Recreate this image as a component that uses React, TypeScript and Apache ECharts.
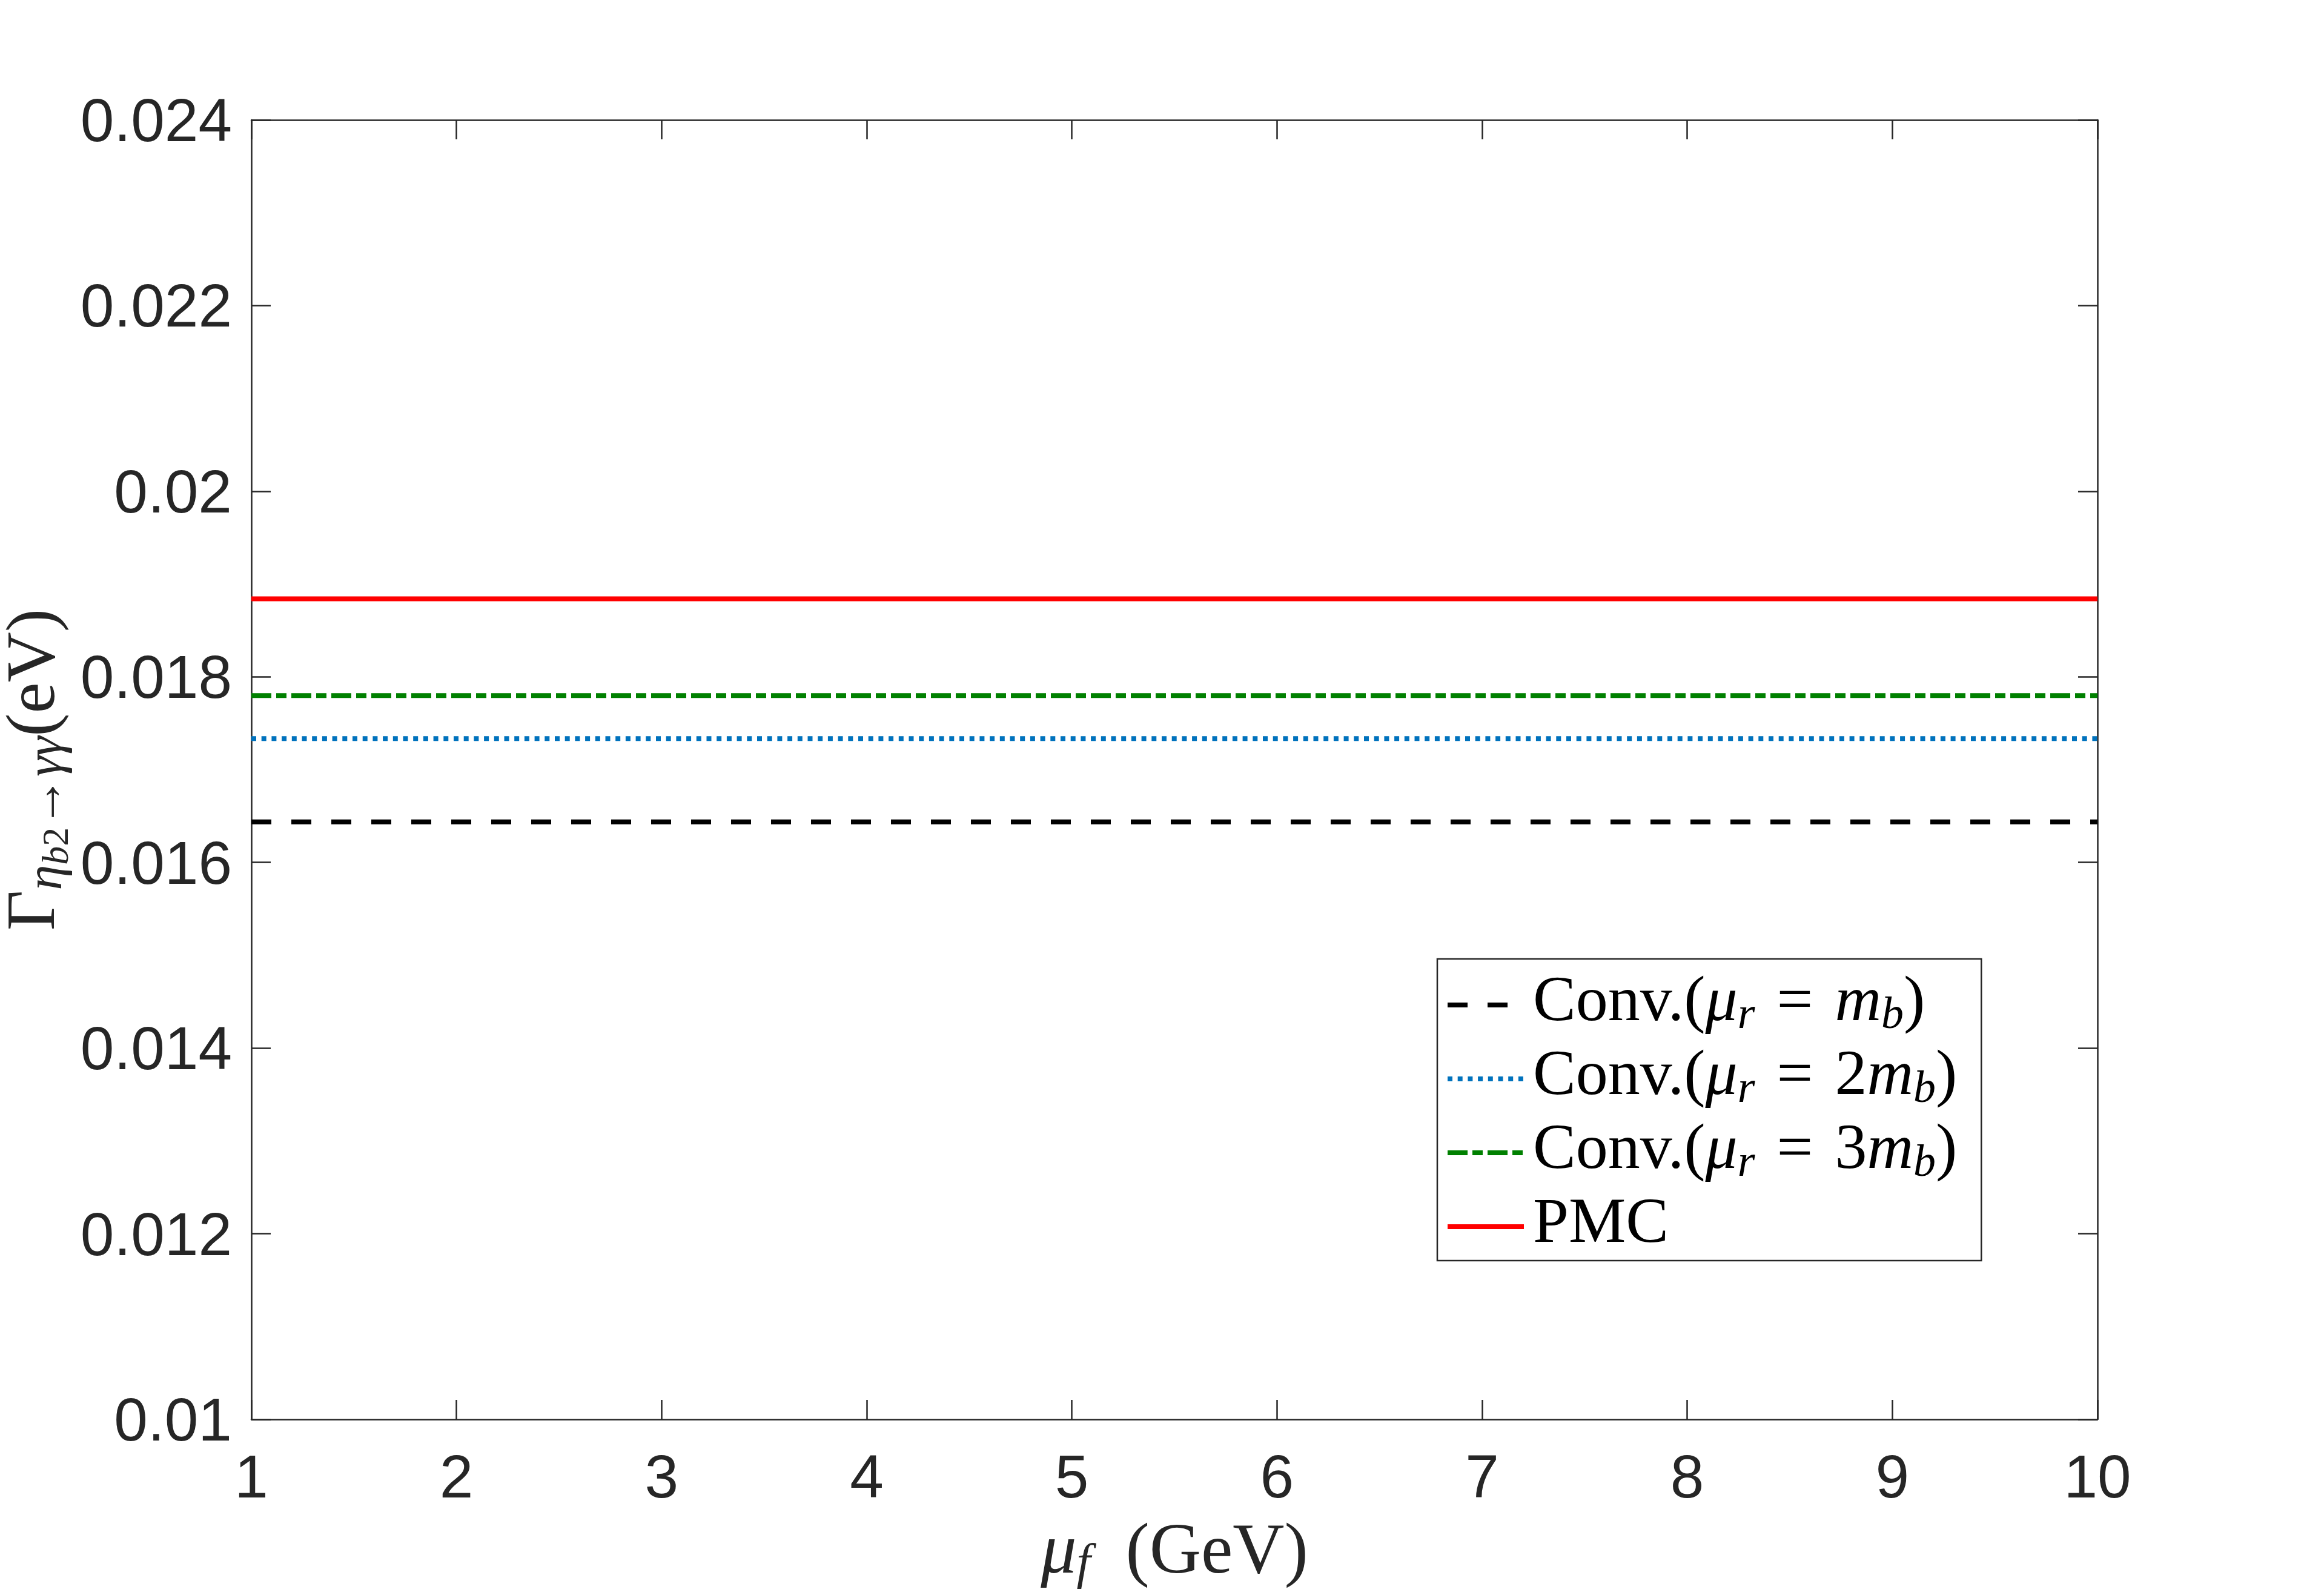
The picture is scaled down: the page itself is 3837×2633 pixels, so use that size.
import { useEffect, useRef } from "react";
import * as echarts from "echarts";

// Factorization scale μ_f (GeV) at which the width was evaluated
const muF = [1, 2, 3, 4, 5, 6, 7, 8, 9, 10];

// Γ(η_b2 → γγ) in eV for each scheme
const gammaConvMb = [0.016437, 0.016437, 0.016437, 0.016437, 0.016437, 0.016437, 0.016437, 0.016437, 0.016437, 0.016437];
const gammaConv2Mb = [0.017334, 0.017334, 0.017334, 0.017334, 0.017334, 0.017334, 0.017334, 0.017334, 0.017334, 0.017334];
const gammaConv3Mb = [0.017798, 0.017798, 0.017798, 0.017798, 0.017798, 0.017798, 0.017798, 0.017798, 0.017798, 0.017798];
const gammaPMC = [0.018841, 0.018841, 0.018841, 0.018841, 0.018841, 0.018841, 0.018841, 0.018841, 0.018841, 0.018841];

// Axis ranges and tick steps
const xRange = [1, 10];
const xStep = 1;
const yRange = [0.01, 0.024];
const yStep = 0.002;

const seriesNames = ["Conv.(μr = mb)", "Conv.(μr = 2mb)", "Conv.(μr = 3mb)", "PMC"];

const SERIF = "'Liberation Serif', 'DejaVu Serif', serif";
const SANS = "'Liberation Sans', Arial, Helvetica, sans-serif";
const AXIS_COLOR = "#262626";

// Rich-text markup for each legend entry
const legendMarkup: Record<string, string> = {
  [seriesNames[0]]: "{c|Conv.(}{i|μ}{s|r}{eq|=}{i|m}{s|b}{n|)}",
  [seriesNames[1]]: "{c|Conv.(}{i|μ}{s|r}{eq|=}{n|2}{i|m}{s|b}{n|)}",
  [seriesNames[2]]: "{c|Conv.(}{i|μ}{s|r}{eq|=}{n|3}{i|m}{s|b}{n|)}",
  [seriesNames[3]]: "{c|PMC}",
};

const LEG_FS = 106;
const LEG_LH = 112;
const legendRich = {
  c: { fontFamily: SERIF, fontSize: LEG_FS, lineHeight: LEG_LH, color: "#000", padding: [0, 0, 22, 10] },
  n: { fontFamily: SERIF, fontSize: LEG_FS, lineHeight: LEG_LH, color: "#000", padding: [0, 0, 22, 0] },
  i: { fontFamily: SERIF, fontSize: LEG_FS, fontStyle: "italic", lineHeight: LEG_LH, color: "#000", padding: [0, 0, 22, 0] },
  s: { fontFamily: SERIF, fontSize: 74, fontStyle: "italic", lineHeight: LEG_LH, color: "#000", padding: [26, 0, 0, 0] },
  eq: { fontFamily: SERIF, fontSize: LEG_FS, lineHeight: LEG_LH, color: "#000", padding: [0, 36, 22, 36] },
};

const Y_FS = 115;
const Y_LH = 116;
const yNameRich = {
  G: { fontFamily: SERIF, fontSize: Y_FS, lineHeight: Y_LH, color: AXIS_COLOR },
  n: { fontFamily: SERIF, fontSize: Y_FS, lineHeight: Y_LH, color: AXIS_COLOR },
  s: { fontFamily: SERIF, fontSize: 84, fontStyle: "italic", lineHeight: Y_LH, color: AXIS_COLOR, padding: [44, 0, 0, 0] },
  sn: { fontFamily: SERIF, fontSize: 84, lineHeight: Y_LH, color: AXIS_COLOR, padding: [44, 0, 0, 0] },
  ss: { fontFamily: SERIF, fontSize: 62, fontStyle: "italic", lineHeight: Y_LH, color: AXIS_COLOR, padding: [80, 0, 0, 0] },
  ssn: { fontFamily: SERIF, fontSize: 62, lineHeight: Y_LH, color: AXIS_COLOR, padding: [80, 0, 0, 0] },
};

const X_FS = 118;
const X_LH = 130;
const xNameRich = {
  i: { fontFamily: SERIF, fontSize: X_FS, fontStyle: "italic", lineHeight: X_LH, color: AXIS_COLOR },
  s: { fontFamily: SERIF, fontSize: 83, fontStyle: "italic", lineHeight: X_LH, color: AXIS_COLOR, padding: [40, 0, 0, 0] },
  n: { fontFamily: SERIF, fontSize: X_FS, lineHeight: X_LH, color: AXIS_COLOR, padding: [0, 0, 0, 58] },
};

const axisLineStyle = { color: AXIS_COLOR, width: 2.5 };

function frameAxis(extra: object) {
  return {
    type: "value",
    axisLine: { show: true, onZero: false, lineStyle: axisLineStyle },
    axisTick: { show: true, inside: true, length: 32, lineStyle: axisLineStyle },
    splitLine: { show: false },
    ...extra,
  };
}

const LINE_W = 8;

export default function App() {
  const ref = useRef<HTMLDivElement>(null);

  useEffect(() => {
    if (!ref.current) return;
    const chart = echarts.init(ref.current, undefined, { renderer: "svg" });

    const mkSeries = (name: string, values: number[], color: string, dash: any) => ({
      name,
      type: "line",
      xAxisIndex: 0,
      yAxisIndex: 0,
      symbol: "none",
      data: muF.map((x, k) => [x, values[k]]),
      lineStyle: { color, width: LINE_W, type: dash, cap: "butt" },
      itemStyle: { color },
    });

    chart.setOption({
      animation: false,
      backgroundColor: "#ffffff",
      grid: {
        left: 415,
        right: 374,
        top: 198,
        bottom: 290,
        containLabel: false,
        outerBoundsMode: "none",
      },
      xAxis: [
        frameAxis({
          position: "bottom",
          min: xRange[0],
          max: xRange[1],
          interval: xStep,
          axisLabel: { show: true, margin: 44, fontSize: 100, fontFamily: SANS, color: AXIS_COLOR },
          name: "{i|μ}{s|f}{n|(GeV)}",
          nameLocation: "middle",
          nameGap: 124,
          nameTextStyle: { rich: xNameRich, fontFamily: SERIF, fontSize: X_FS, lineHeight: X_LH, color: AXIS_COLOR },
        }),
        frameAxis({
          position: "top",
          min: xRange[0],
          max: xRange[1],
          interval: xStep,
          axisLabel: { show: false },
        }),
      ],
      yAxis: [
        frameAxis({
          position: "left",
          min: yRange[0],
          max: yRange[1],
          interval: yStep,
          axisLabel: {
            show: true,
            margin: 32,
            fontSize: 100,
            fontFamily: SANS,
            color: AXIS_COLOR,
            formatter: (v: number) => String(+v.toFixed(3)),
          },
          name: "{G|Γ}{s|η}{ss|b}{ssn|2}{sn|→}{s|γγ}{n|(eV)}",
          nameLocation: "middle",
          nameRotate: 90,
          nameGap: 286,
          nameTextStyle: { rich: yNameRich, fontFamily: SERIF, fontSize: Y_FS, lineHeight: Y_LH, color: AXIS_COLOR },
        }),
        frameAxis({
          position: "right",
          min: yRange[0],
          max: yRange[1],
          interval: yStep,
          axisLabel: { show: false },
        }),
      ],
      legend: {
        orient: "vertical",
        left: 2373,
        top: 1583,
        padding: [12, 40, -8, 13],
        itemGap: -6,
        itemWidth: 126,
        itemHeight: 20,
        backgroundColor: "#ffffff",
        borderColor: AXIS_COLOR,
        borderWidth: 2.5,
        borderRadius: 0,
        selectedMode: false,
        data: seriesNames,
        lineStyle: { width: LINE_W },
        itemStyle: { opacity: 0 },
        formatter: (name: string) => legendMarkup[name] ?? name,
        textStyle: { fontFamily: SERIF, fontSize: LEG_FS, lineHeight: LEG_LH, color: "#000", rich: legendRich },
      },
      series: [
        mkSeries(seriesNames[0], gammaConvMb, "#000000", [33, 33]),
        mkSeries(seriesNames[1], gammaConv2Mb, "#0072BD", [8, 8.7]),
        mkSeries(seriesNames[2], gammaConv3Mb, "#008000", [33, 8, 17, 8]),
        mkSeries(seriesNames[3], gammaPMC, "#FF0000", "solid"),
      ],
    });

    return () => chart.dispose();
  }, []);

  return (
    <div
      ref={ref}
      style={{ position: "absolute", left: 0, top: 0, width: 3837, height: 2633, background: "#ffffff" }}
    />
  );
}
